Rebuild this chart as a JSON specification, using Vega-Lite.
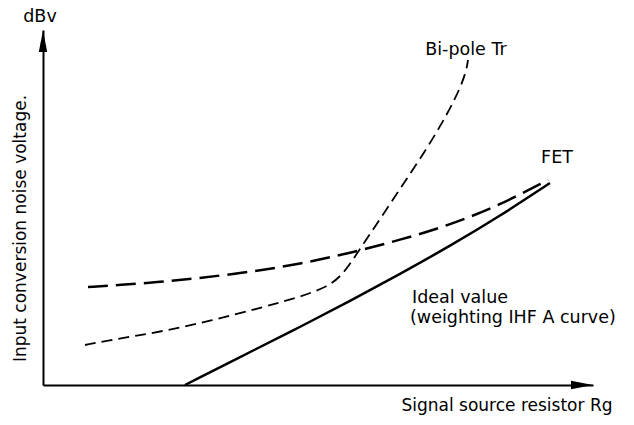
{
  "$schema": "https://vega.github.io/schema/vega-lite/v6.json",
  "width": 550,
  "height": 355,
  "autosize": {"type": "none"},
  "padding": {"left": 43, "top": 30, "right": 41, "bottom": 40},
  "background": "white",
  "config": {
    "view": {"stroke": null},
    "font": "DejaVu Sans",
    "axis": {"grid": false, "ticks": false, "labels": false, "domainColor": "black", "domainWidth": 2,
             "titleFont": "DejaVu Sans", "titleFontSize": 17, "titleFontWeight": "normal", "titleColor": "black"}
  },
  "datasets": {
    "curves": [
      {"series": "Ideal", "x": 142, "y": 0},
      {"series": "Ideal", "x": 217, "y": 38},
      {"series": "Ideal", "x": 257, "y": 58},
      {"series": "Ideal", "x": 307, "y": 84},
      {"series": "Ideal", "x": 357, "y": 111},
      {"series": "Ideal", "x": 407, "y": 139},
      {"series": "Ideal", "x": 457, "y": 169},
      {"series": "Ideal", "x": 507, "y": 202},
      {"series": "FET", "x": 45, "y": 98},
      {"series": "FET", "x": 77, "y": 100},
      {"series": "FET", "x": 117, "y": 103},
      {"series": "FET", "x": 157, "y": 107},
      {"series": "FET", "x": 207, "y": 113},
      {"series": "FET", "x": 257, "y": 121},
      {"series": "FET", "x": 307, "y": 132},
      {"series": "FET", "x": 357, "y": 145},
      {"series": "FET", "x": 407, "y": 160},
      {"series": "FET", "x": 457, "y": 180},
      {"series": "FET", "x": 505, "y": 205},
      {"series": "Bipolar", "x": 42, "y": 40},
      {"series": "Bipolar", "x": 67, "y": 45},
      {"series": "Bipolar", "x": 117, "y": 53},
      {"series": "Bipolar", "x": 167, "y": 64},
      {"series": "Bipolar", "x": 217, "y": 77},
      {"series": "Bipolar", "x": 257, "y": 88},
      {"series": "Bipolar", "x": 284, "y": 98},
      {"series": "Bipolar", "x": 297, "y": 108},
      {"series": "Bipolar", "x": 307, "y": 121},
      {"series": "Bipolar", "x": 317, "y": 136},
      {"series": "Bipolar", "x": 337, "y": 166},
      {"series": "Bipolar", "x": 357, "y": 196},
      {"series": "Bipolar", "x": 377, "y": 226},
      {"series": "Bipolar", "x": 397, "y": 258},
      {"series": "Bipolar", "x": 412, "y": 286},
      {"series": "Bipolar", "x": 420, "y": 304},
      {"series": "Bipolar", "x": 424, "y": 318},
      {"series": "Bipolar", "x": 425, "y": 325}
    ],
    "labels": [
      {"x": 423, "y": 335, "text": "Bi-pole Tr", "align": "center"},
      {"x": 514, "y": 227, "text": "FET", "align": "center"},
      {"x": 369, "y": 87, "text": "Ideal value", "align": "left"},
      {"x": 367, "y": 67, "text": "(weighting IHF A curve)", "align": "left"},
      {"x": -3, "y": 368, "text": "dBv", "align": "center"}
    ],
    "arrows": [
      {"x": 0, "y": 344, "dir": "up"},
      {"x": 539, "y": 0, "dir": "right"}
    ]
  },
  "encoding": {
    "x": {"field": "x", "type": "quantitative", "scale": {"domain": [0, 550], "nice": false, "zero": false},
          "axis": {"title": "Signal source resistor Rg", "titleX": 569, "titleY": 20, "titleAlign": "right", "titleBaseline": "middle", "titleAnchor": null}},
    "y": {"field": "y", "type": "quantitative", "scale": {"domain": [0, 355], "nice": false, "zero": false},
          "axis": {"title": "Input conversion noise voltage.", "titleX": -23, "titleY": 198, "titleAngle": -90, "titleAlign": "center", "titleBaseline": "middle"}}
  },
  "layer": [
    {
      "data": {"name": "curves"},
      "transform": [{"filter": "datum.series === 'Ideal'"}],
      "mark": {"type": "line", "color": "black", "strokeWidth": 2.5, "interpolate": "basis"}
    },
    {
      "data": {"name": "curves"},
      "transform": [{"filter": "datum.series === 'FET'"}],
      "mark": {"type": "line", "color": "black", "strokeWidth": 2.5, "strokeDash": [20, 8], "interpolate": "basis"}
    },
    {
      "data": {"name": "curves"},
      "transform": [{"filter": "datum.series === 'Bipolar'"}],
      "mark": {"type": "line", "color": "black", "strokeWidth": 1.8, "strokeDash": [11, 6], "interpolate": "basis"}
    },
    {
      "data": {"name": "arrows"},
      "transform": [{"filter": "datum.dir === 'up'"}],
      "mark": {"type": "point", "shape": "M0,-1L0.38,1L-0.38,1Z", "size": 484, "filled": true, "color": "black", "opacity": 1}
    },
    {
      "data": {"name": "arrows"},
      "transform": [{"filter": "datum.dir === 'right'"}],
      "mark": {"type": "point", "shape": "M1,0L-1,-0.38L-1,0.38Z", "size": 484, "filled": true, "color": "black", "opacity": 1}
    },
    {
      "data": {"name": "labels"},
      "transform": [{"filter": "datum.align === 'center'"}],
      "mark": {"type": "text", "align": "center", "baseline": "middle", "fontSize": 17.5, "font": "DejaVu Sans", "color": "black"},
      "encoding": {"text": {"field": "text"}}
    },
    {
      "data": {"name": "labels"},
      "transform": [{"filter": "datum.align === 'left'"}],
      "mark": {"type": "text", "align": "left", "baseline": "middle", "fontSize": 17.5, "font": "DejaVu Sans", "color": "black"},
      "encoding": {"text": {"field": "text"}}
    }
  ]
}
